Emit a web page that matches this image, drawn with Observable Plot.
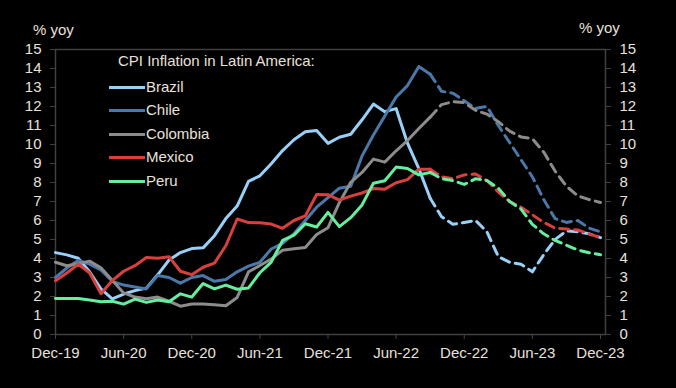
<!DOCTYPE html>
<html><head><meta charset="utf-8">
<script src="https://cdn.jsdelivr.net/npm/d3@7"></script>
<script src="https://cdn.jsdelivr.net/npm/@observablehq/plot@0.6"></script>
<style>
html,body{margin:0;padding:0;background:#000;}
#wrap{position:relative;width:676px;height:388px;background:#000;overflow:hidden;font-family:"Liberation Sans",Arial,sans-serif;color:#e8e0dc;}
.lab{position:absolute;font-size:15px;line-height:20px;height:20px;white-space:nowrap;}
#wrap svg.plot{position:absolute;left:0;top:0;}
</style></head><body><div id="wrap"></div>
<script>
// Months Dec-19 .. Dec-23 (index 0..48); actual through Sep-22 (index 33), forecast after
const xTickLabels = ["Dec-19","Jun-20","Dec-20","Jun-21","Dec-21","Jun-22","Dec-22","Jun-23","Dec-23"];
const yTicks = [0,1,2,3,4,5,6,7,8,9,10,11,12,13,14,15];
const countries = ["Brazil","Chile","Colombia","Mexico","Peru"];
const colors = ["#99d0f8","#4a78a8","#8c8c8c","#d8403e","#66eea0"];

const brazilActual = [4.31,4.19,4.01,3.30,2.40,1.88,2.13,2.31,2.44,3.14,3.92,4.31,4.52,4.56,5.20,6.10,6.76,8.06,8.35,8.99,9.68,10.25,10.67,10.74,10.06,10.38,10.54,11.30,12.13,11.73,11.89,10.07,8.73,7.17];
const chileActual = [3.0,3.5,3.9,3.7,3.4,2.8,2.6,2.5,2.4,3.1,3.0,2.7,3.0,3.1,2.8,2.9,3.3,3.6,3.8,4.5,4.8,5.3,6.0,6.7,7.2,7.7,7.8,9.4,10.5,11.5,12.5,13.1,14.1,13.7];
const colombiaActual = [3.80,3.62,3.72,3.86,3.51,2.85,2.19,1.97,1.88,1.97,1.75,1.49,1.61,1.60,1.56,1.51,1.95,3.30,3.63,3.97,4.44,4.51,4.58,5.26,5.62,6.94,8.01,8.53,9.23,9.07,9.67,10.21,10.84,11.44];
const mexicoActual = [2.83,3.24,3.70,3.25,2.15,2.84,3.33,3.62,4.05,4.01,4.09,3.33,3.15,3.54,3.76,4.67,6.08,5.89,5.88,5.81,5.59,6.00,6.24,7.37,7.36,7.07,7.28,7.45,7.68,7.65,7.99,8.15,8.70,8.70];
const peruActual = [1.90,1.89,1.90,1.82,1.72,1.75,1.60,1.86,1.69,1.82,1.72,2.14,1.97,2.68,2.40,2.60,2.38,2.45,3.25,3.81,4.95,5.23,5.83,5.66,6.43,5.68,6.15,6.82,7.96,8.09,8.81,8.74,8.40,8.53];

const brazilForecast = [6.2,5.8,5.9,6.0,5.4,4.1,3.8,3.7,3.3,4.2,5.0,5.45,5.4,5.3,5.1];
const chileForecast = [12.8,12.7,12.3,11.9,12.0,11.0,10.1,9.2,8.3,7.1,6.1,5.9,6.0,5.6,5.4];
const colombiaForecast = [12.1,12.25,12.2,11.8,11.6,11.2,10.7,10.4,10.3,9.6,8.6,7.8,7.3,7.1,6.95];
const mexicoForecast = [8.3,8.2,8.4,8.45,8.1,7.5,7.0,6.7,6.3,5.9,5.6,5.55,5.5,5.3,5.1];
const peruForecast = [8.2,8.1,7.9,8.2,8.1,7.7,7.0,6.6,5.8,5.3,4.95,4.7,4.45,4.3,4.2];

const actualSeries = [brazilActual, chileActual, colombiaActual, mexicoActual, peruActual];
const forecastSeries = [brazilForecast, chileForecast, colombiaForecast, mexicoForecast, peruForecast];

const actualRows = [], forecastRows = [];
countries.forEach((c, k) => {
  const a = actualSeries[k];
  a.forEach((v, i) => actualRows.push({country: c, i, v}));
  const last = a.length - 1;
  forecastRows.push({country: c, i: last, v: a[last]});
  forecastSeries[k].forEach((v, j) => forecastRows.push({country: c, i: last + 1 + j, v}));
});
// paint order: Chile/Colombia behind, Brazil etc
const xTicks = xTickLabels.map((_, k) => k * 6);

const axisColor = "#404040";
const textColor = "#e8e0dc";

const chart = Plot.plot({
  width: 676, height: 388,
  marginLeft: 55, marginRight: 71, marginTop: 49, marginBottom: 54,
  style: {background: "transparent", color: textColor, fontFamily: "'Liberation Sans', Arial, sans-serif", fontSize: "15px"},
  x: {type: "linear", domain: [0, 48.44]},
  y: {domain: [0, 15]},
  color: {domain: countries, range: colors},
  marks: [
    Plot.frame({stroke: axisColor, strokeWidth: 1.5}),
    Plot.axisY(yTicks, {anchor: "left", tickSize: 5, tickPadding: 9, stroke: axisColor, fill: textColor, fontSize: 15, label: null}),
    Plot.axisY(yTicks, {anchor: "right", tickSize: 5, tickPadding: 9, stroke: axisColor, fill: textColor, fontSize: 15, label: null}),
    Plot.axisX(xTicks, {anchor: "bottom", tickSize: 5, tickPadding: 8, stroke: axisColor, fill: textColor, fontSize: 15, label: null,
      tickFormat: d => xTickLabels[d / 6]}),
    Plot.line(forecastRows, {x: "i", y: "v", z: "country", stroke: "country", strokeWidth: 3, strokeDasharray: "9,6", strokeLinejoin: "round"}),
    Plot.line(actualRows, {x: "i", y: "v", z: "country", stroke: "country", strokeWidth: 3, strokeLinejoin: "round"})
  ]
});

const wrap = document.getElementById("wrap");
wrap.appendChild(chart);

function addLabel(text, left, cy, extra) {
  const d = document.createElement("div");
  d.className = "lab";
  d.textContent = text;
  d.style.left = left + "px";
  d.style.top = (cy - 10) + "px";
  if (extra) Object.assign(d.style, extra);
  wrap.appendChild(d);
  return d;
}
addLabel("% yoy", 33, 30);
addLabel("% yoy", 579, 28);
addLabel("CPI Inflation in Latin America:", 118, 61);

const legendY = [87, 110, 134, 157, 181];
countries.forEach((c, k) => {
  const ln = document.createElement("div");
  ln.style.position = "absolute";
  ln.style.left = "109px";
  ln.style.width = "36px";
  ln.style.top = (legendY[k] - 1.5) + "px";
  ln.style.height = "3px";
  ln.style.background = colors[k];
  wrap.appendChild(ln);
  addLabel(c, 146, legendY[k]);
});
</script></body></html>
